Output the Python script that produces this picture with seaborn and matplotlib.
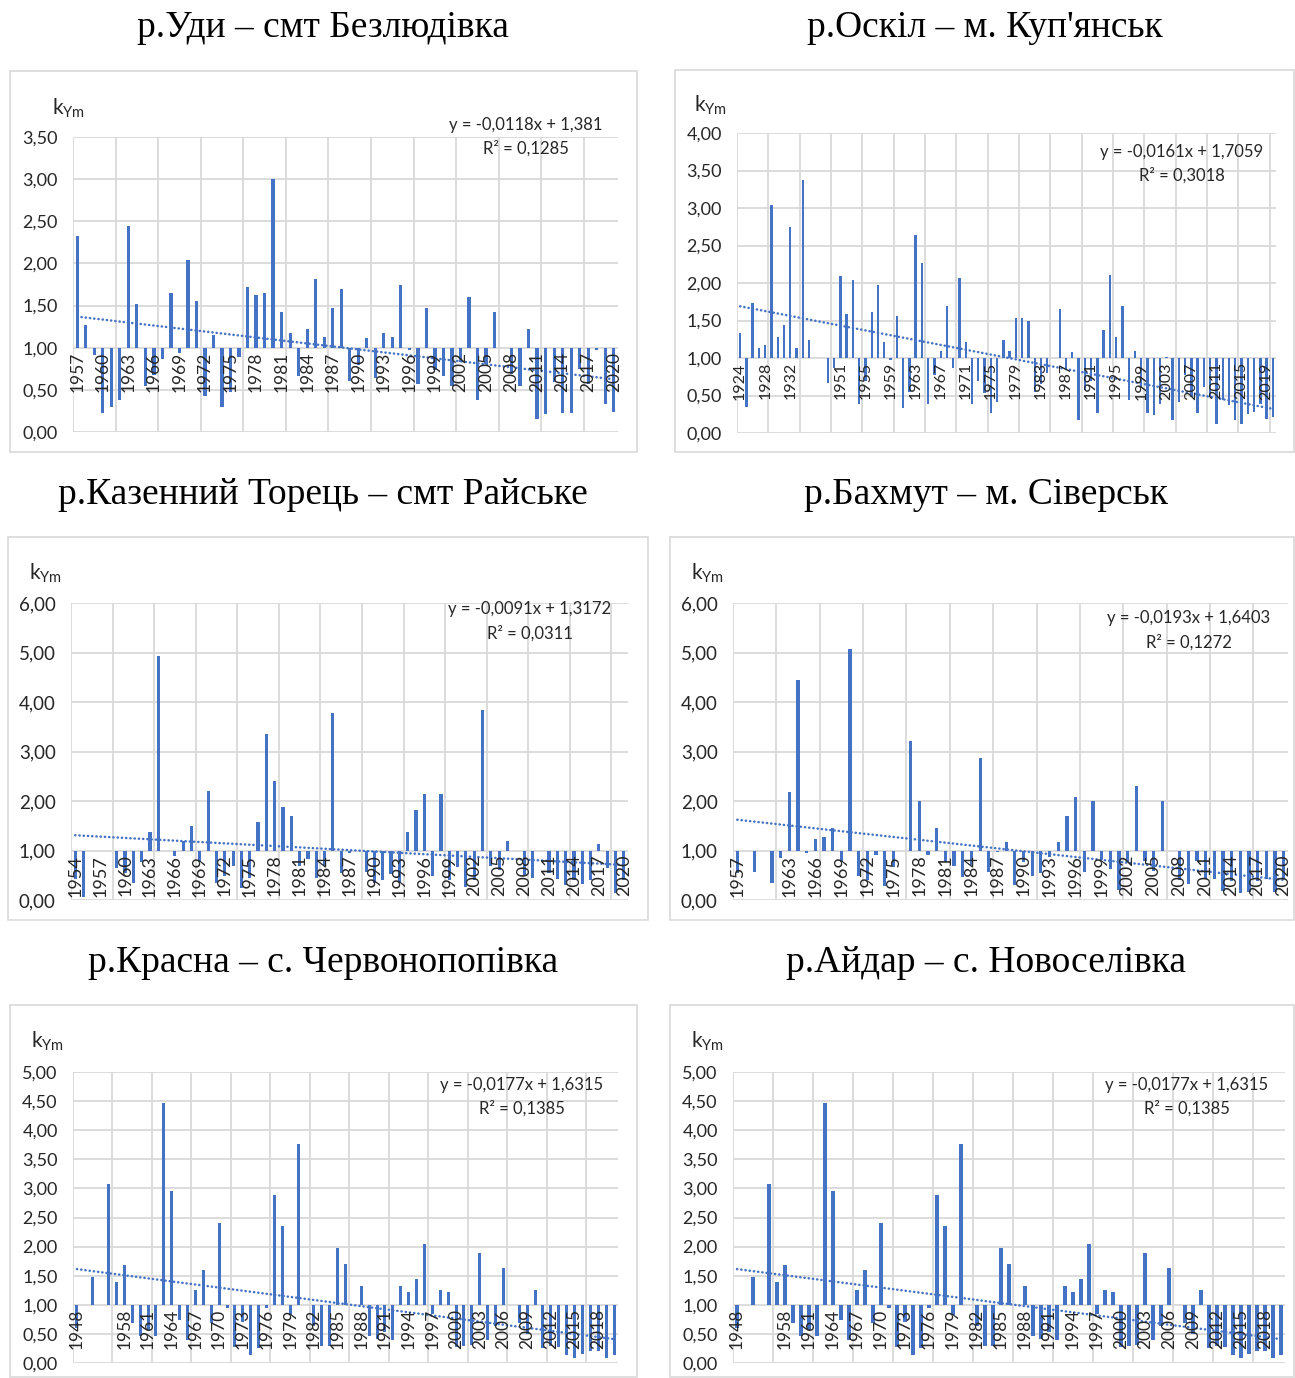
#Aim: k_Ym coefficient per year for six river gauges (bars around 1.00 + linear trend)
import numpy as np
import pandas as pd
import seaborn as sns
import matplotlib.pyplot as plt
from matplotlib.patches import Rectangle
from matplotlib.ticker import FuncFormatter

#Step 1: data
udy_years = [str(y) for y in range(1957, 2021)]
udy_k = [2.33, 1.27, 0.91, 0.22, 0.30, 0.38, 2.45, 1.52, 0.55, 0.68,
         0.87, 1.65, 0.94, 2.04, 1.55, 0.43, 1.15, 0.30, 0.47, 0.89,
         1.72, 1.62, 1.65, 3.00, 1.42, 1.17, 0.66, 1.22, 1.82, 1.13,
         1.47, 1.70, 0.61, 0.80, 1.11, 0.64, 1.17, 1.13, 1.75, 0.97,
         0.57, 1.47, 0.73, 0.66, 0.55, 0.83, 1.60, 0.38, 0.81, 1.42,
         1.00, 0.69, 0.55, 1.22, 0.16, 0.21, 0.59, 0.22, 0.23, 0.75,
         0.57, 0.97, 0.33, 0.24]

oskil_years = [str(y) for y in range(1924, 1936)] + ['', '', '1949', '1950'] + [str(y) for y in range(1951, 2021)]
oskil_k = [1.33, 0.35, 1.74, 1.14, 1.18, 3.04, 1.28, 1.44, 2.74, 1.14, 3.37, 1.24,
           1.00, 1.00, 0.67, 0.87,
           2.09, 1.59, 2.04, 0.39, 0.70, 1.61, 1.97, 1.21, 0.97, 1.56,
           0.34, 0.55, 2.64, 2.27, 0.39, 0.77, 1.10, 1.69, 0.87, 2.07,
           1.21, 0.39, 0.69, 0.53,
           0.27, 0.41, 1.24, 1.10, 1.53, 1.53, 1.49, 0.55, 0.66, 0.80,
           1.00, 1.66, 0.84, 1.08, 0.18, 0.57, 0.70, 0.27, 1.37, 2.11,
           1.28, 1.69, 0.44, 1.10, 0.61, 0.27, 0.24, 0.39, 1.01, 0.17,
           0.41, 0.77, 0.48, 0.27, 0.61, 0.48, 0.12, 0.44, 0.37, 0.17,
           0.12, 0.25, 0.28, 0.39, 0.19, 0.22]

torets_years = [str(y) for y in range(1954, 2021)]
torets_k = [0.42, 0.07, 1.00, 1.00, 1.00, 0.64, 0.55, 0.35, 0.76, 1.38,
            4.93, 1.00, 0.88, 1.19, 1.50, 0.76, 2.21, 0.35, 0.48, 0.69,
            0.25, 0.44, 1.57, 3.35, 2.40, 1.88, 1.70, 0.68, 0.83, 0.44,
            0.68, 3.77, 0.54, 0.95, 1.00, 0.56, 0.35, 0.40, 0.53, 0.35,
            1.38, 1.82, 2.14, 0.49, 2.14, 0.41, 0.66, 0.27, 0.41, 3.84,
            0.69, 0.61, 1.19, 1.00, 0.51, 0.44, 1.00, 0.54, 0.42, 0.31,
            0.41, 0.33, 0.40, 1.13, 0.64, 0.15, 0.41]

bakhmut_years = ['1957', '1958', '1959', ''] + [str(y) for y in range(1961, 2021)]
bakhmut_k = [0.55, 1.00, 0.56, 1.00, 0.34, 0.85, 2.18, 4.45, 0.95, 1.24,
             1.28, 1.46, 0.76, 5.07, 0.49, 0.40, 0.90, 0.29, 0.66, 1.00,
             3.21, 2.01, 0.90, 1.46, 0.76, 0.68, 0.47, 0.70, 2.86, 0.56,
             0.96, 1.17, 0.31, 0.76, 0.49, 0.54, 0.86, 1.17, 1.69, 2.08,
             0.56, 2.01, 0.80, 0.63, 0.20, 0.76, 2.30, 0.78, 0.59, 2.01,
             1.00, 0.40, 0.32, 0.78, 0.43, 0.43, 0.19, 0.39, 0.14, 0.16,
             0.39, 0.43, 0.16, 0.43]

krasna_years = ['1948', '1949', '1953', '', '1956', '1957'] + [str(y) for y in range(1958, 2021)]
krasna_k = [0.60, 1.00, 1.48, 1.00, 3.07, 1.40, 1.68, 0.68, 0.46, 0.56,
            0.46, 4.47, 2.96, 0.74, 0.39, 1.26, 1.59, 0.68, 2.40, 0.95,
            0.27, 0.70, 0.14, 0.26, 0.95, 2.89, 2.36, 0.83, 3.77, 1.00,
            0.64, 0.30, 0.30, 1.98, 1.70, 1.00, 1.33, 0.47, 0.42, 0.54,
            0.39, 1.33, 1.22, 1.45, 2.05, 0.85, 1.26, 1.22, 0.27, 0.30,
            0.31, 1.89, 0.39, 0.63, 1.64, 1.00, 0.68, 0.50, 1.26, 0.26,
            0.30, 0.27, 0.13, 0.08, 0.16, 0.21, 0.20, 0.08, 0.14]

# the Aidar panel shows exactly the same series as Krasna
aidar_years = list(krasna_years)
aidar_k = list(krasna_k)

# trend line labels shown on each chart: slope, intercept, R2
udy_trend = (-0.0118, 1.381, 0.1285)
oskil_trend = (-0.0161, 1.7059, 0.3018)
torets_trend = (-0.0091, 1.3172, 0.0311)
bakhmut_trend = (-0.0193, 1.6403, 0.1272)
krasna_trend = (-0.0177, 1.6315, 0.1385)
aidar_trend = (-0.0177, 1.6315, 0.1385)

#Step 2: layout (pixels of the 1295x1378 picture)
W, H = 1295, 1378
BLUE = '#4472C4'
GRID = '#D9D9D9'
TXT = '#262626'

panels = [
    dict(title='р.Уди – смт Безлюдівка', years=udy_years, k=udy_k, trend=udy_trend,
         ymax=3.5, ystep=0.5, lstep=3, box=(10, 71, 637, 452), plot=(73, 137, 618, 432),
         tpos=(323, 28), kpos=(52, 115), epos=(526, 125, 148), yfs=12.5, tfs=13),
    dict(title="р.Оскіл – м. Куп'янськ", years=oskil_years, k=oskil_k, trend=oskil_trend,
         ymax=4.0, ystep=0.5, lstep=4, box=(675, 70, 1294, 452), plot=(737, 133, 1276, 433),
         tpos=(985, 28), kpos=(694, 112), epos=(1182, 152, 175), yfs=11.5, tfs=13),
    dict(title='р.Казенний Торець – смт Райське', years=torets_years, k=torets_k, trend=torets_trend,
         ymax=6.0, ystep=1.0, lstep=3, box=(8, 537, 648, 920), plot=(71, 603, 628, 900),
         tpos=(323, 495), kpos=(29, 580), epos=(530, 609, 633), yfs=13, tfs=13.5),
    dict(title='р.Бахмут – м. Сіверськ', years=bakhmut_years, k=bakhmut_k, trend=bakhmut_trend,
         ymax=6.0, ystep=1.0, lstep=3, box=(670, 537, 1294, 920), plot=(733, 603, 1288, 900),
         tpos=(986, 495), kpos=(691, 580), epos=(1189, 618, 642), yfs=13, tfs=13.5),
    dict(title='р.Красна – с. Червонопопівка', years=krasna_years, k=krasna_k, trend=krasna_trend,
         ymax=5.0, ystep=0.5, lstep=3, box=(10, 1005, 637, 1377), plot=(73, 1072, 618, 1363),
         tpos=(323, 963), kpos=(31, 1048), epos=(522, 1085, 1108), yfs=12.5, tfs=13),
    dict(title='р.Айдар – с. Новоселівка', years=aidar_years, k=aidar_k, trend=aidar_trend,
         ymax=5.0, ystep=0.5, lstep=3, box=(670, 1005, 1294, 1377), plot=(733, 1072, 1285, 1363),
         tpos=(986, 963), kpos=(691, 1048), epos=(1187, 1085, 1108), yfs=12.5, tfs=13),
]

sns.set_theme(style='white')
plt.rcParams['font.family'] = ['Lato', 'DejaVu Sans']
plt.rcParams['mathtext.fontset'] = 'custom'
plt.rcParams['mathtext.rm'] = 'Lato'
plt.rcParams['mathtext.it'] = 'Lato'
plt.rcParams['mathtext.default'] = 'regular'

fig = plt.figure(figsize=(W / 100, H / 100), dpi=100)
fig.patch.set_facecolor('white')

def fx(x):
    return x / W

def fy(y):
    return 1 - y / H

def num(v):
    return str(v).replace('.', ',')

#Step 3: draw each panel
for p in panels:
    n = len(p['k'])
    assert n == len(p['years'])
    x0, y0, x1, y1 = p['box']
    fig.add_artist(Rectangle((fx(x0), fy(y1)), (x1 - x0) / W, (y1 - y0) / H,
                             transform=fig.transFigure, fill=False, ec=GRID, lw=1.2))
    fig.text(fx(p['tpos'][0]), fy(p['tpos'][1]), p['title'], ha='center', va='center',
             fontsize=27, color='black', family=['Liberation Serif', 'DejaVu Serif'])

    l, t, r, b = p['plot']
    ax = fig.add_axes([fx(l), fy(b), (r - l) / W, (b - t) / H])
    df = pd.DataFrame({'pos': range(n), 'dev': np.array(p['k']) - 1.0})
    sns.barplot(data=df, x='pos', y='dev', ax=ax, color=BLUE, saturation=1, width=0.38,
                errorbar=None, bottom=1.0, linewidth=0, zorder=2)

    slope, icpt, r2 = p['trend']
    tx = np.arange(n)
    sns.lineplot(x=tx, y=slope * (tx + 1) + icpt, ax=ax, color=BLUE, lw=1.8,
                 linestyle=(0, (0.1, 1.6)), dash_capstyle='round', zorder=2.5)

    ax.set_xlim(-0.5, n - 0.5)
    ax.set_ylim(0, p['ymax'])
    for s in ax.spines.values():
        s.set_visible(False)
    ax.spines['bottom'].set_position(('data', 1.0))
    ticks = list(range(0, n, p['lstep']))
    ax.set_xticks(ticks)
    ax.set_xticklabels([p['years'][i] for i in ticks], rotation=90, fontsize=p['yfs'], color=TXT)
    ax.tick_params(axis='x', which='both', length=0, pad=3)
    ax.set_yticks(np.arange(0, p['ymax'] + 1e-9, p['ystep']))
    ax.yaxis.set_major_formatter(FuncFormatter(lambda v, pos: f'{v:.2f}'.replace('.', ',')))
    ax.tick_params(axis='y', length=0, pad=11, labelsize=p['tfs'], labelcolor=TXT)
    ax.grid(False)
    ax.yaxis.grid(True, which='major', color=GRID, lw=1.3)
    ax.yaxis.set_zorder(0.5)
    # vertical gridlines every 5 categories, behind the bars; year labels on top
    ax.vlines(np.arange(-0.5, n, 5), 0, p['ymax'], color=GRID, lw=1.3, zorder=0.6)
    ax.xaxis.set_zorder(3)
    ax.set_xlabel('')
    ax.set_ylabel('')

    fig.text(fx(p['kpos'][0]), fy(p['kpos'][1]), r'k$_{Ym}$', fontsize=15, color=TXT,
             ha='left', va='baseline')
    ex, ey1, ey2 = p['epos']
    fig.text(fx(ex), fy(ey1), f'y = {num(slope)}x + {num(icpt)}', fontsize=12, color=TXT,
             ha='center', va='center')
    fig.text(fx(ex), fy(ey2), f'R² = {num(r2)}', fontsize=12, color=TXT,
             ha='center', va='center')

plt.savefig('out.png', dpi=100, facecolor='white')
